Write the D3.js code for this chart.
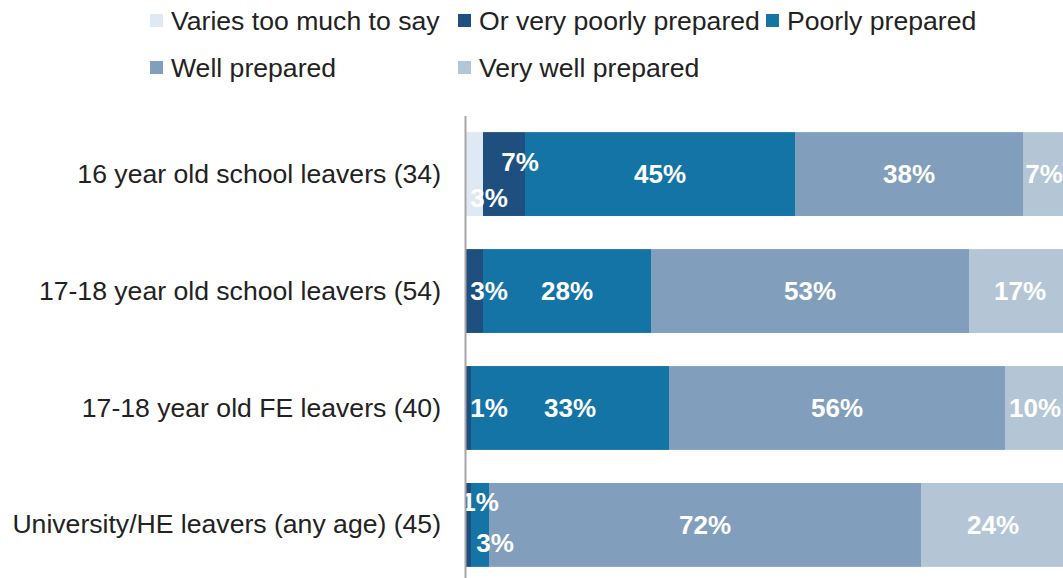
<!DOCTYPE html>
<html>
<head>
<meta charset="utf-8">
<script src="https://cdn.jsdelivr.net/npm/d3@7"></script>
<style>
  html, body { margin: 0; padding: 0; background: #fff; }
  svg { display: block; font-family: "Liberation Sans", Arial, sans-serif; }
</style>
</head>
<body>
<svg id="chart" width="1063" height="578"></svg>
<script>
// Survey groups (respondent counts in brackets)
const categories = [
  "16 year old school leavers (34)",
  "17-18 year old school leavers (54)",
  "17-18 year old FE leavers (40)",
  "University/HE leavers (any age) (45)"
];

const seriesNames = [
  "Varies too much to say",
  "Or very poorly prepared",
  "Poorly prepared",
  "Well prepared",
  "Very well prepared"
];

// Percentages per group, one array per response
const variesTooMuch   = [3, 0, 0, 0];
const veryPoorly      = [7, 3, 1, 1];
const poorly          = [45, 28, 33, 3];
const well            = [38, 53, 56, 72];
const veryWell        = [7, 17, 10, 24];

const seriesColors = ["#dfe9f3", "#1e4f7e", "#1474a6", "#819fbc", "#b4c6d6"];

// Small segments carry their labels shifted off-centre: "row-series" -> [dx, dy]
const labelNudge = {
  "0-0": [15, 24],
  "0-1": [16, -12],
  "1-1": [15, 0],
  "2-1": [21, 0],
  "3-1": [12, -23],
  "3-2": [15, 18]
};

const rows = categories.map((c, i) => {
  const r = { category: c };
  [variesTooMuch, veryPoorly, poorly, well, veryWell].forEach((arr, k) => { r[seriesNames[k]] = arr[i]; });
  return r;
});

const svg = d3.select("#chart");

const x = d3.scaleLinear().domain([0, 100]).range([465, 1065]);
const y = d3.scaleBand().domain(categories).range([115.5, 583.5]).paddingInner(0.283).paddingOuter(0.142);

const stacked = d3.stack().keys(seriesNames)(rows);

const color = d3.scaleOrdinal().domain(seriesNames).range(seriesColors);

// Bars
const layers = svg.append("g").selectAll("g")
  .data(stacked).join("g")
  .attr("fill", d => color(d.key));

layers.selectAll("rect")
  .data(d => d.map(v => Object.assign(v, { key: d.key })))
  .join("rect")
  .attr("x", d => x(d[0]))
  .attr("y", d => y(d.data.category))
  .attr("width", d => Math.max(0, x(d[1]) - x(d[0])))
  .attr("height", y.bandwidth());

// Value labels
const labelData = [];
stacked.forEach((layer, k) => {
  layer.forEach((d, i) => {
    const v = d[1] - d[0];
    if (v > 0) {
      const n = labelNudge[i + "-" + k] || [0, 0];
      labelData.push({
        text: v + "%",
        cx: (x(d[0]) + x(d[1])) / 2 + n[0],
        cy: y(d.data.category) + y.bandwidth() / 2 + n[1]
      });
    }
  });
});

svg.append("g").selectAll("text")
  .data(labelData).join("text")
  .attr("x", d => d.cx)
  .attr("y", d => d.cy)
  .attr("dy", "0.36em")
  .attr("text-anchor", "middle")
  .attr("fill", "#ffffff")
  .attr("font-weight", "bold")
  .attr("font-size", 26)
  .text(d => d.text);

// Category axis
const yAxis = d3.axisLeft(y).tickSize(0).tickPadding(24);
const axisG = svg.append("g").attr("transform", "translate(465,0)").call(yAxis);
axisG.select(".domain").attr("stroke", "#a6a6a6").attr("stroke-width", 2);
axisG.selectAll("text")
  .attr("font-size", 26.6)
  .attr("fill", "#222222")
  .attr("font-family", "Liberation Sans, Arial, sans-serif");

// Legend
const legendPos = [[150, 21], [458, 21], [766, 21], [150, 68], [458, 68]];
const legend = svg.append("g").selectAll("g")
  .data(seriesNames).join("g")
  .attr("transform", (d, i) => `translate(${legendPos[i][0]},${legendPos[i][1]})`);

legend.append("rect")
  .attr("x", 0).attr("y", -7)
  .attr("width", 13).attr("height", 13)
  .attr("fill", d => color(d));

legend.append("text")
  .attr("x", 21)
  .attr("y", 0)
  .attr("dy", "0.35em")
  .attr("font-size", 26.6)
  .attr("fill", "#222222")
  .text(d => d);
</script>
</body>
</html>
